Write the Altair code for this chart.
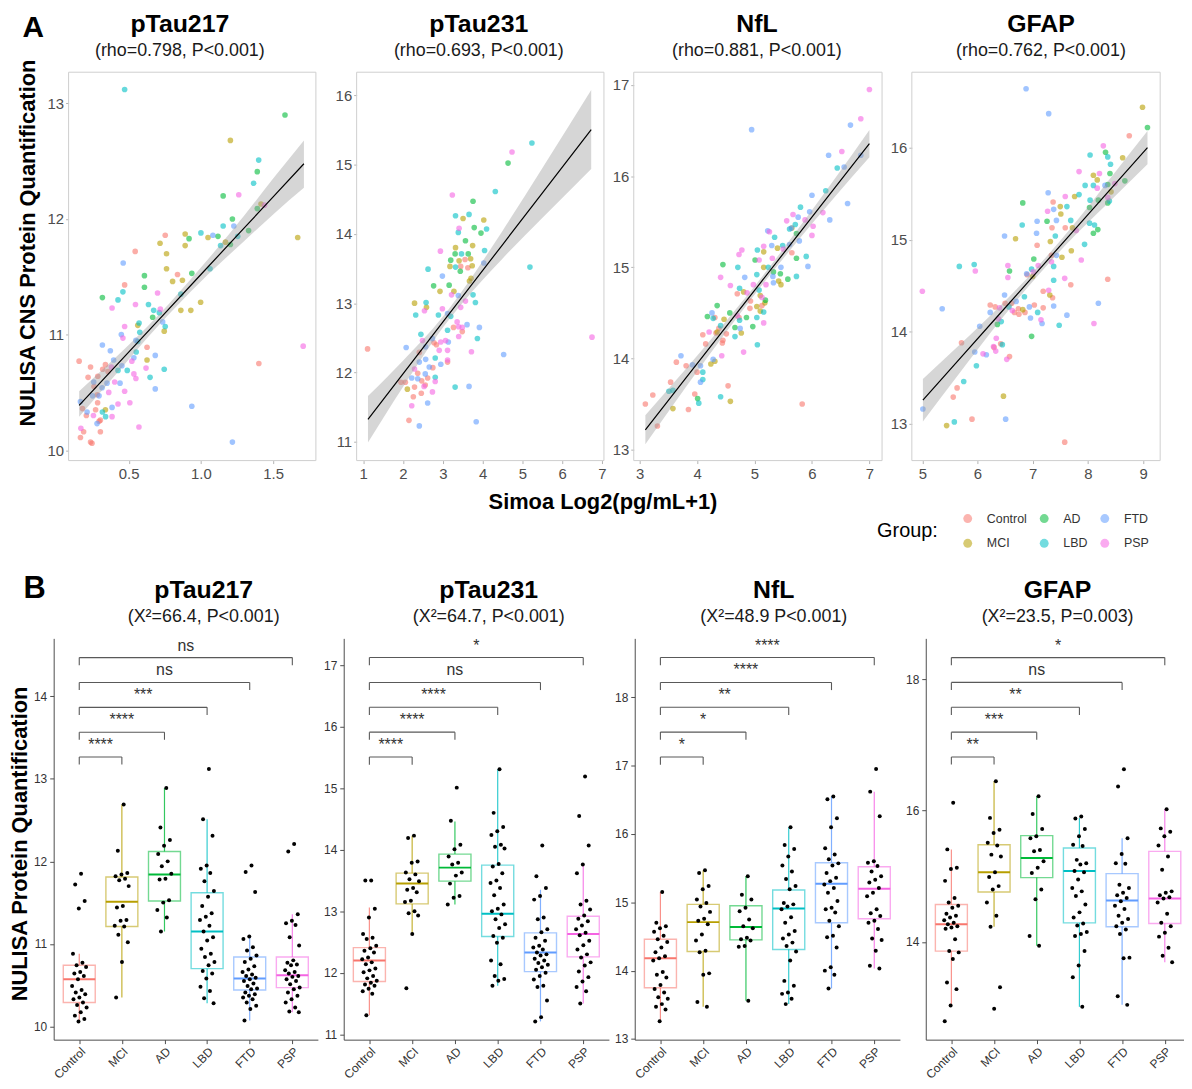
import altair as alt
import pandas as pd

FONT = "Liberation Sans"
GROUPS = ["Control", "MCI", "AD", "LBD", "FTD", "PSP"]
COLORS = ["#F8766D", "#B79F00", "#00BA38", "#00BFC4", "#619CFF", "#F564E3"]

# ---------------- Panel A: (Simoa, NULISA) pairs per group ----------------
A_PTAU217 = {
    "Control": [(0.753, 11.86), (0.545, 11.72), (0.838, 11.52), (0.472, 11.43), (0.627, 10.89), (0.157, 10.77),
                (1.401, 10.75), (0.339, 10.74), (0.236, 10.72), (0.357, 10.68), (0.219, 10.63), (0.286, 10.64),
                (0.283, 10.48), (0.285, 10.41), (0.18, 10.36), (0.271, 10.35), (0.207, 10.30), (0.304, 10.26),
                (0.295, 10.25), (0.188, 10.16), (0.304, 10.16), (0.166, 10.11), (0.236, 10.07), (0.246, 10.06),
                (0.32, 10.70), (0.26, 10.55)],
    "MCI": [(1.204, 12.68), (1.416, 12.13), (0.891, 11.87), (1.049, 11.84), (1.67, 11.84), (0.717, 11.79),
            (0.891, 11.77), (1.17, 11.80), (0.762, 11.70), (0.762, 11.57), (0.804, 11.46), (0.872, 11.47),
            (0.998, 11.28), (0.861, 11.21), (0.93, 11.21), (0.746, 11.03), (0.563, 11.08), (0.627, 10.78),
            (0.339, 10.35)],
    "AD": [(1.582, 12.90), (1.39, 12.41), (1.154, 12.20), (1.39, 12.09), (1.218, 12.0), (0.918, 11.83),
           (1.118, 11.85), (1.33, 11.90), (1.204, 11.78), (0.937, 11.53), (0.609, 11.51), (0.609, 11.41),
           (0.318, 11.32), (0.666, 11.15)],
    "LBD": [(0.472, 13.12), (1.40, 12.51), (1.365, 12.31), (1.154, 11.94), (1.0, 11.88), (1.255, 11.85),
            (1.136, 11.77), (1.063, 11.57), (0.46, 11.37), (0.861, 11.35), (0.426, 11.30), (0.637, 11.26),
            (0.673, 11.21), (0.712, 11.19), (0.753, 11.07), (0.572, 11.10), (0.577, 11.02), (0.563, 10.94),
            (0.552, 10.85), (0.426, 10.69), (0.49, 10.69), (0.746, 10.70), (0.648, 10.63), (0.318, 10.33),
            (0.34, 10.29)],
    "FTD": [(1.228, 11.94), (1.083, 11.86), (0.462, 11.62), (0.735, 11.11), (0.449, 11.0), (0.55, 10.95),
            (0.318, 10.91), (0.373, 10.86), (0.684, 10.82), (0.396, 10.78), (0.536, 10.80), (0.453, 10.73),
            (0.258, 10.59), (0.44, 10.58), (0.35, 10.58), (0.684, 10.53), (0.316, 10.54), (0.295, 10.47),
            (0.25, 10.47), (0.937, 10.38), (0.166, 10.42), (0.385, 10.37), (0.212, 10.33), (0.281, 10.23),
            (1.218, 10.07)],
    "PSP": [(1.262, 12.21), (1.44, 12.12), (0.70, 11.36), (0.547, 11.26), (0.385, 11.23), (0.719, 11.22),
            (0.472, 11.07), (0.46, 10.97), (1.708, 10.90), (0.522, 10.77), (0.38, 10.72), (0.62, 10.71),
            (0.536, 10.66), (0.55, 10.62), (0.403, 10.59), (0.472, 10.51), (0.362, 10.50), (0.426, 10.40),
            (0.508, 10.41), (0.256, 10.30), (0.385, 10.29), (0.169, 10.19), (0.571, 10.20)],
}
A_PTAU231 = {
    "Control": [(3.56, 13.63), (3.45, 13.53), (3.63, 13.51), (3.27, 12.65), (3.49, 12.59), (2.78, 12.43),
                (2.84, 12.40), (1.11, 12.34), (2.41, 12.29), (3.12, 12.15), (2.75, 12.07), (2.37, 11.99),
                (2.62, 11.92), (2.47, 11.88), (1.95, 11.86), (2.06, 11.86), (2.29, 11.79), (2.56, 11.82),
                (2.46, 11.70), (2.26, 11.65), (2.15, 11.31)],
    "MCI": [(3.51, 14.22), (4.03, 14.20), (3.32, 13.80), (3.75, 13.83), (3.41, 13.61), (3.70, 13.64),
            (3.18, 13.53), (3.74, 13.54), (3.67, 13.32), (3.71, 13.36), (2.93, 13.17), (3.28, 13.17),
            (2.29, 13.00), (2.59, 12.94), (2.11, 11.76)],
    "AD": [(4.64, 15.02), (3.76, 14.47), (3.79, 14.09), (3.96, 14.01), (3.57, 13.90), (3.31, 13.71),
           (3.64, 13.71), (3.20, 13.62), (3.44, 13.46), (2.77, 13.25), (3.16, 13.26)],
    "LBD": [(5.24, 15.31), (4.32, 14.61), (3.32, 14.26), (3.66, 14.28), (4.10, 14.07), (3.39, 14.02),
            (4.05, 13.76), (3.47, 13.71), (3.32, 13.52), (2.63, 13.49), (3.76, 13.12), (2.58, 13.01),
            (3.82, 13.01), (2.32, 12.83), (2.89, 12.83), (3.20, 12.81), (3.12, 12.61), (3.87, 12.49),
            (2.45, 12.55), (2.81, 12.21), (2.81, 11.93), (3.31, 11.79), (5.19, 13.52)],
    "FTD": [(4.03, 13.58), (2.99, 13.39), (3.39, 13.11), (3.12, 12.85), (3.61, 12.69), (3.92, 12.65),
            (2.74, 12.49), (3.14, 12.44), (2.08, 12.36), (2.57, 12.37), (4.53, 12.26), (2.57, 12.19),
            (2.41, 12.15), (2.95, 12.12), (2.66, 12.08), (2.56, 11.98), (2.22, 11.92), (2.37, 11.91),
            (3.66, 11.80), (2.62, 11.56), (2.41, 11.23), (3.84, 11.29)],
    "PSP": [(4.74, 15.18), (3.24, 14.56), (3.41, 14.08), (2.94, 13.75), (3.22, 13.12), (3.57, 13.03),
            (2.54, 12.89), (2.99, 12.92), (3.45, 12.94), (3.36, 12.73), (3.40, 12.66), (3.49, 12.65),
            (3.40, 12.52), (2.49, 12.46), (3.07, 12.46), (2.95, 12.44), (2.91, 12.32), (3.72, 12.30),
            (3.12, 12.32), (6.75, 12.51), (3.12, 12.18), (2.29, 12.05), (2.81, 11.87), (2.53, 11.80),
            (2.74, 11.72), (2.22, 11.52)],
}
A_NFL = {
    "Control": [(4.70, 14.71), (4.93, 14.63), (5.13, 14.58), (4.92, 14.55), (4.31, 14.45), (4.73, 14.45),
                (4.38, 14.33), (4.33, 14.28), (4.51, 14.27), (4.10, 14.26), (4.45, 14.20), (4.44, 14.17),
                (4.15, 14.16), (3.64, 13.96), (3.81, 13.92), (4.0, 13.85), (3.54, 13.74), (4.54, 13.70),
                (3.23, 13.60), (3.96, 13.61), (3.10, 13.50), (5.83, 13.50), (3.85, 13.44), (3.31, 13.26),
                (5.65, 15.16)],
    "MCI": [(5.65, 15.43), (5.40, 15.21), (5.16, 15.17), (5.16, 15.0), (5.42, 14.85), (5.46, 14.81),
            (4.81, 14.73), (5.10, 14.69), (5.18, 14.61), (5.04, 14.57), (5.10, 14.52), (4.47, 14.43),
            (4.35, 14.29), (4.77, 14.28), (4.31, 13.97), (4.24, 13.94), (4.58, 13.53), (3.58, 13.45)],
    "AD": [(5.73, 15.37), (5.01, 15.08), (5.73, 15.10), (4.45, 15.03), (5.33, 14.95), (5.45, 14.93),
           (5.58, 14.87), (5.19, 14.64), (4.35, 14.58), (4.57, 14.50), (4.18, 14.46), (4.86, 14.45),
           (4.66, 14.34), (4.97, 14.35), (4.01, 13.56)],
    "LBD": [(6.44, 16.09), (6.24, 15.84), (5.80, 15.66), (5.71, 15.47), (5.61, 15.42), (5.35, 15.33),
            (5.49, 15.24), (5.05, 15.19), (5.90, 15.12), (4.71, 15.0), (5.24, 15.0), (5.04, 14.92),
            (5.73, 14.90), (4.74, 14.77), (5.08, 14.75), (5.16, 14.51), (4.28, 14.44), (4.74, 14.42),
            (5.04, 14.45), (4.41, 14.36), (4.66, 14.24), (5.05, 14.15), (4.10, 13.85), (4.10, 13.77),
            (3.51, 13.64), (3.58, 13.65), (4.41, 13.58), (4.03, 13.51)],
    "FTD": [(6.67, 16.56), (4.95, 16.51), (6.29, 16.23), (6.85, 16.23), (6.56, 16.10), (6.00, 15.79),
            (6.62, 15.70), (5.96, 15.61), (6.31, 15.52), (5.76, 15.55), (5.23, 15.40), (5.64, 15.43),
            (5.78, 15.29), (5.30, 15.24), (5.61, 15.25), (5.93, 15.01), (5.46, 15.0), (5.32, 14.90),
            (4.83, 14.89), (5.33, 14.83), (4.26, 14.50), (4.75, 14.33), (3.72, 14.03), (4.28, 13.99),
            (3.92, 13.93), (4.06, 13.92), (4.06, 13.74)],
    "PSP": [(7.0, 16.95), (6.85, 16.63), (6.52, 16.27), (6.19, 15.60), (5.67, 15.58), (5.56, 15.51),
            (5.88, 15.52), (6.02, 15.45), (5.26, 15.39), (6.00, 15.35), (5.16, 15.23), (5.50, 15.20),
            (4.78, 15.19), (4.73, 15.14), (5.08, 15.08), (5.31, 15.10), (4.41, 14.89), (4.98, 14.81),
            (5.20, 14.81), (4.58, 14.80), (4.87, 14.72), (5.13, 14.67), (4.70, 14.47), (5.16, 14.39),
            (4.21, 14.29), (4.81, 14.07), (4.43, 14.03)],
}
A_GFAP = {
    "Control": [(8.75, 16.13), (7.37, 15.41), (7.35, 15.13), (7.59, 15.13), (7.08, 14.94), (7.34, 14.83),
                (6.90, 14.62), (8.36, 14.57), (7.69, 14.51), (7.19, 14.44), (7.36, 14.37), (6.23, 14.29),
                (6.32, 14.27), (6.50, 14.31), (6.62, 14.31), (6.74, 14.25), (7.03, 14.29), (7.19, 14.26),
                (6.67, 14.21), (6.86, 14.21), (6.75, 14.19), (5.71, 13.88), (6.42, 13.87), (6.30, 13.83),
                (6.58, 13.73), (5.63, 13.39), (5.56, 13.29), (5.90, 13.05), (7.58, 12.80)],
    "MCI": [(8.99, 16.44), (8.63, 15.89), (8.10, 15.70), (8.17, 15.65), (8.42, 15.52), (7.76, 15.47),
            (7.50, 15.36), (7.51, 15.28), (7.72, 15.13), (6.69, 15.01), (7.32, 14.98), (7.70, 14.88),
            (7.53, 14.81), (7.00, 14.60), (7.31, 14.40), (6.82, 14.24), (6.47, 13.30), (5.44, 12.98)],
    "AD": [(9.08, 16.22), (8.32, 15.95), (8.40, 15.72), (8.67, 15.64), (8.36, 15.60), (8.19, 15.43),
           (8.36, 15.40), (6.82, 15.40), (8.03, 15.35), (7.26, 15.20), (8.18, 15.11), (8.10, 15.07),
           (7.02, 14.79), (6.58, 14.66), (6.36, 14.08), (6.98, 13.95)],
    "LBD": [(8.04, 15.92), (8.36, 15.90), (8.41, 15.82), (7.95, 15.59), (8.10, 15.59), (7.84, 15.49),
            (8.04, 15.43), (8.39, 15.42), (7.62, 15.36), (7.69, 15.21), (8.03, 15.18), (8.12, 15.16),
            (6.81, 15.16), (7.41, 15.04), (7.94, 14.95), (5.67, 14.71), (5.94, 14.73), (7.38, 14.71),
            (6.98, 14.68), (7.38, 14.56), (6.85, 14.38), (6.57, 14.27), (7.09, 14.21), (6.43, 14.11),
            (7.48, 14.07), (6.45, 13.86), (5.98, 13.63), (5.75, 13.46), (5.58, 13.02)],
    "FTD": [(6.88, 16.64), (7.29, 16.37), (8.31, 15.59), (7.28, 15.51), (7.38, 15.33), (7.08, 15.20),
            (7.43, 15.21), (7.07, 15.07), (6.49, 15.04), (7.43, 14.83), (6.89, 14.63), (6.49, 14.40),
            (6.70, 14.33), (8.19, 14.31), (7.38, 14.28), (5.36, 14.25), (6.23, 14.21), (6.94, 14.27),
            (7.62, 14.18), (6.96, 14.15), (7.17, 14.09), (6.04, 14.06), (5.95, 13.78), (6.16, 13.75),
            (5.01, 13.16), (6.51, 13.05)],
    "PSP": [(8.28, 16.02), (7.84, 15.74), (8.21, 15.72), (8.17, 15.56), (8.49, 15.61), (7.59, 15.47),
            (8.36, 15.46), (7.27, 15.31), (7.79, 15.10), (7.88, 14.78), (7.34, 14.76), (6.55, 14.72),
            (5.96, 14.66), (7.10, 14.72), (7.01, 14.65), (6.55, 14.59), (7.58, 14.58), (5.0, 14.44),
            (7.29, 14.45), (6.40, 14.26), (6.63, 14.23), (7.15, 14.13), (6.38, 14.14), (8.11, 14.09),
            (6.34, 13.93), (6.29, 13.84), (6.33, 13.79), (6.10, 13.76), (6.53, 13.70)],
}

# regression fit and confidence band
FIT_PTAU217_X = [0.157, 0.4, 0.7, 1.0, 1.3, 1.5, 1.713]
FIT_PTAU217_Y = [10.387, 10.714, 11.117, 11.52, 11.923, 12.192, 12.478]
FIT_PTAU217_LO = [10.29, 10.64, 11.07, 11.46, 11.81, 12.04, 12.27]
FIT_PTAU217_HI = [10.51, 10.79, 11.16, 11.58, 12.03, 12.35, 12.68]
FIT_PTAU231_X = [1.12, 2.0, 3.0, 3.5, 4.5, 5.5, 6.73]
FIT_PTAU231_Y = [11.325, 11.98, 12.725, 13.097, 13.842, 14.587, 15.503]
FIT_PTAU231_LO = [10.99, 11.79, 12.645, 13.007, 13.642, 14.227, 14.933]
FIT_PTAU231_HI = [11.66, 12.17, 12.805, 13.187, 14.042, 14.947, 16.073]
FIT_NFL_X = [3.1, 3.8, 4.5, 5.1, 5.7, 6.4, 7.0]
FIT_NFL_Y = [13.218, 13.781, 14.345, 14.827, 15.310, 15.873, 16.356]
FIT_NFL_LO = [13.058, 13.681, 14.285, 14.782, 15.25, 15.773, 16.206]
FIT_NFL_HI = [13.378, 13.881, 14.405, 14.872, 15.37, 15.973, 16.506]
FIT_GFAP_X = [5.01, 5.7, 6.4, 7.1, 7.8, 8.5, 9.08]
FIT_GFAP_Y = [13.256, 13.721, 14.193, 14.665, 15.137, 15.609, 16.0]
FIT_GFAP_LO = [13.026, 13.571, 14.113, 14.615, 15.067, 15.479, 15.82]
FIT_GFAP_HI = [13.486, 13.871, 14.273, 14.715, 15.207, 15.739, 16.18]

# ---------------- Panel B: NULISA values per group ----------------
B_PTAU217 = {
    "Control": [11.85, 11.72, 11.52, 11.43, 10.88, 10.77, 10.74, 10.72, 10.66, 10.64, 10.61, 10.57, 10.49, 10.44,
                10.41, 10.39, 10.35, 10.33, 10.29, 10.26, 10.23, 10.17, 10.13, 10.09, 10.06],
    "MCI": [12.69, 12.13, 11.86, 11.84, 11.82, 11.79, 11.77, 11.70, 11.46, 11.44, 11.29, 11.28, 11.22, 11.21,
            11.11, 11.02, 10.78, 10.35],
    "AD": [12.89, 12.41, 12.26, 12.19, 12.09, 12.0, 11.94, 11.85, 11.79, 11.78, 11.53, 11.50, 11.41, 11.32, 11.15],
    "LBD": [13.12, 12.51, 12.31, 11.95, 11.91, 11.86, 11.76, 11.64, 11.57, 11.46, 11.37, 11.33, 11.29, 11.22,
            11.15, 11.08, 11.04, 10.94, 10.88, 10.84, 10.78, 10.74, 10.67, 10.64, 10.58, 10.48, 10.43, 10.34, 10.28],
    "FTD": [11.95, 11.87, 11.63, 11.09, 11.06, 10.96, 10.92, 10.86, 10.82, 10.78, 10.73, 10.69, 10.66, 10.63,
            10.61, 10.59, 10.57, 10.55, 10.52, 10.49, 10.46, 10.45, 10.41, 10.39, 10.37, 10.35, 10.33, 10.29,
            10.25, 10.21, 10.07],
    "PSP": [12.21, 12.12, 11.36, 11.28, 11.25, 11.23, 11.08, 10.98, 10.80, 10.77, 10.75, 10.74, 10.68, 10.66,
            10.64, 10.61, 10.60, 10.57, 10.55, 10.51, 10.47, 10.45, 10.41, 10.37, 10.33, 10.29, 10.23, 10.18, 10.17],
}
B_PTAU231 = {
    "Control": [13.50, 13.50, 13.04, 12.90, 12.63, 12.57, 12.55, 12.44, 12.40, 12.36, 12.33, 12.25, 12.22, 12.17,
                12.14, 12.07, 12.04, 12.01, 11.95, 11.91, 11.87, 11.84, 11.81, 11.79, 11.74, 11.70, 11.66, 11.31],
    "MCI": [14.23, 14.19, 13.81, 13.79, 13.63, 13.60, 13.52, 13.49, 13.38, 13.35, 13.31, 13.17, 13.15, 13.00,
            12.97, 12.93, 12.63, 11.75],
    "AD": [15.01, 14.47, 14.08, 14.01, 13.89, 13.79, 13.76, 13.63, 13.58, 13.45, 13.25, 13.22, 13.11],
    "LBD": [15.31, 14.60, 14.37, 14.30, 14.24, 14.08, 14.05, 14.02, 13.77, 13.73, 13.62, 13.50, 13.46, 13.38,
            13.26, 13.11, 13.04, 13.00, 12.95, 12.87, 12.79, 12.73, 12.60, 12.57, 12.49, 12.20, 12.14, 11.95,
            11.90, 11.87, 11.79],
    "FTD": [14.07, 13.57, 13.38, 13.25, 13.19, 12.90, 12.87, 12.71, 12.66, 12.57, 12.52, 12.44, 12.41, 12.38,
            12.33, 12.30, 12.28, 12.23, 12.20, 12.16, 12.13, 12.09, 12.05, 12.00, 11.95, 11.89, 11.79, 11.77,
            11.55, 11.28, 11.21],
    "PSP": [15.19, 14.55, 14.07, 13.76, 13.62, 13.17, 13.11, 13.03, 12.93, 12.88, 12.84, 12.77, 12.71, 12.65,
            12.61, 12.52, 12.45, 12.38, 12.30, 12.25, 12.17, 12.12, 12.02, 11.93, 11.86, 11.77, 11.70, 11.50],
}
B_NFL = {
    "Control": [15.15, 14.70, 14.65, 14.62, 14.57, 14.51, 14.46, 14.42, 14.34, 14.27, 14.21, 14.18, 14.15, 13.98,
                13.94, 13.90, 13.79, 13.73, 13.68, 13.61, 13.59, 13.51, 13.47, 13.43, 13.26],
    "MCI": [15.47, 15.43, 15.24, 15.19, 15.04, 14.99, 14.94, 14.86, 14.76, 14.73, 14.68, 14.53, 14.44, 14.29,
            14.27, 13.96, 13.94, 13.54, 13.47],
    "AD": [15.38, 15.11, 15.04, 14.92, 14.87, 14.75, 14.65, 14.62, 14.48, 14.46, 14.44, 14.36, 14.35, 13.56],
    "LBD": [16.10, 15.84, 15.78, 15.67, 15.54, 15.45, 15.34, 15.24, 15.19, 14.99, 14.97, 14.94, 14.90, 14.78,
            14.70, 14.58, 14.53, 14.47, 14.41, 14.36, 14.28, 14.15, 13.85, 13.78, 13.68, 13.66, 13.59, 13.51],
    "FTD": [16.55, 16.51, 16.23, 16.10, 15.79, 15.70, 15.63, 15.57, 15.54, 15.43, 15.36, 15.31, 15.26, 15.21,
            15.14, 15.02, 14.92, 14.90, 14.85, 14.73, 14.65, 14.51, 14.49, 14.34, 14.05, 14.00, 13.94, 13.74],
    "PSP": [16.95, 16.62, 16.26, 15.60, 15.58, 15.53, 15.45, 15.38, 15.33, 15.29, 15.21, 15.14, 15.09, 14.90,
            14.84, 14.80, 14.73, 14.70, 14.61, 14.47, 14.45, 14.29, 14.07, 14.03],
}
B_GFAP = {
    "Control": [16.12, 15.41, 15.13, 15.11, 14.93, 14.67, 14.60, 14.55, 14.52, 14.43, 14.40, 14.37, 14.33, 14.29,
                14.27, 14.24, 14.22, 14.20, 14.04, 13.86, 13.84, 13.74, 13.38, 13.28, 13.03, 12.79],
    "MCI": [16.45, 15.89, 15.71, 15.66, 15.51, 15.47, 15.33, 15.30, 15.06, 14.99, 14.85, 14.80, 14.60, 14.40,
            14.23, 13.31, 12.98],
    "AD": [16.22, 15.95, 15.72, 15.61, 15.58, 15.40, 15.38, 15.23, 15.13, 15.05, 14.80, 14.65, 14.09, 13.94],
    "LBD": [15.91, 15.88, 15.72, 15.61, 15.48, 15.46, 15.25, 15.20, 15.18, 15.08, 15.06, 14.95, 14.82, 14.77,
            14.70, 14.57, 14.45, 14.37, 14.28, 14.25, 14.15, 14.12, 14.09, 13.86, 13.64, 13.46, 13.01],
    "FTD": [16.63, 16.37, 15.58, 15.34, 15.20, 15.19, 14.87, 14.82, 14.75, 14.71, 14.67, 14.62, 14.55, 14.50,
            14.40, 14.35, 14.29, 14.24, 14.19, 14.12, 13.76, 13.75, 13.17, 13.04],
    "PSP": [16.02, 15.73, 15.68, 15.61, 15.47, 15.30, 15.10, 14.77, 14.75, 14.71, 14.68, 14.66, 14.60, 14.43,
            14.29, 14.24, 14.14, 14.08, 13.91, 13.79, 13.69],
}

# box statistics per group (Control..PSP): lower whisker, Q1, median, Q3, upper whisker
BOX_PTAU217 = dict(lo=[10.04, 10.35, 11.15, 10.28, 10.07, 10.17], q1=[10.29, 11.21, 11.52, 10.70, 10.44, 10.47],
                   med=[10.57, 11.51, 11.84, 11.15, 10.58, 10.62], q3=[10.74, 11.81, 12.12, 11.62, 10.84, 10.84],
                   hi=[10.88, 12.69, 12.89, 12.51, 11.10, 11.36])
BOX_PTAU231 = dict(lo=[11.31, 12.63, 13.11, 11.79, 11.21, 11.50], q1=[11.86, 13.12, 13.49, 12.59, 12.02, 12.26],
                   med=[12.20, 13.45, 13.71, 12.96, 12.33, 12.63], q3=[12.41, 13.62, 13.93, 13.75, 12.65, 12.92],
                   hi=[13.06, 14.23, 14.46, 15.31, 13.35, 13.76])
BOX_NFL = dict(lo=[13.26, 13.47, 13.56, 13.51, 13.74, 14.03], q1=[13.75, 14.28, 14.45, 14.31, 14.70, 14.76],
               med=[14.18, 14.71, 14.64, 14.91, 15.27, 15.20], q3=[14.46, 14.97, 14.95, 15.18, 15.58, 15.52],
               hi=[15.15, 15.47, 15.38, 16.10, 16.55, 16.62])
BOX_GFAP = dict(lo=[13.04, 14.23, 13.94, 13.01, 13.04, 13.69], q1=[13.86, 14.76, 14.98, 14.29, 14.23, 14.28],
                med=[14.27, 15.06, 15.28, 15.08, 14.63, 14.66], q3=[14.57, 15.48, 15.62, 15.43, 15.04, 15.38],
                hi=[15.41, 16.45, 16.22, 15.89, 15.58, 16.02])

# pairwise comparisons vs Control (MCI, AD, LBD, FTD, PSP)
SIG_PTAU217 = ["****", "****", "***", "ns", "ns"]
SIG_PTAU231 = ["****", "****", "****", "ns", "*"]
SIG_NFL = ["*", "*", "**", "****", "****"]
SIG_GFAP = ["**", "***", "**", "ns", "*"]
LEVELS_PTAU217 = [13.265, 13.566, 13.867, 14.169, 14.47]
LEVELS_PTAU231 = [15.508, 15.912, 16.316, 16.72, 17.124]
LEVELS_NFL = [17.127, 17.491, 17.855, 18.218, 18.582]
LEVELS_GFAP = [16.818, 17.197, 17.576, 17.955, 18.333]

COLOR_SCALE = alt.Scale(domain=GROUPS, range=COLORS)
ONE = pd.DataFrame({"k": [0]})


def value_text(text, x, y, size, bold=True, angle=0, align="center"):
    kw = dict(fontSize=size, font=FONT, fontWeight="bold" if bold else "normal", align=align,
              baseline="alphabetic", color="black")
    if angle:
        kw["angle"] = angle
    return alt.Chart(pd.DataFrame({"t": [text]})).mark_text(**kw).encode(
        x=alt.value(x), y=alt.value(y), text="t:N")


def spacer(w, ax, ay1, ay2, extra=()):
    # an untitled, invisible leading cell that carries the row's outer labels
    rule = alt.Chart(ONE).mark_rule(opacity=0).encode(
        x=alt.value(ax), y=alt.value(ay1), y2=alt.value(ay2))
    return alt.layer(rule, *extra).properties(width=w, height=1)


def make_title(title, subtitle, dx):
    return alt.TitleParams(text=title, subtitle=subtitle, fontSize=25, fontWeight="bold", font=FONT,
                           subtitleFontSize=18, subtitleFont=FONT, subtitleColor="#1A1A1A",
                           anchor="middle", frame="group", dx=dx, offset=12, subtitlePadding=5)


def scatter_panel(pts_by_group, fx, fy, flo, fhi, xdom, ydom, xticks, yticks, xfmt, w, h, plot_w,
                  title, subtitle, dx, legend=None, extra=()):
    rows = [{"group": g, "x": x, "y": y} for g in GROUPS for (x, y) in pts_by_group[g]]
    pts = pd.DataFrame(rows)
    band = pd.DataFrame({"x": fx, "fit": fy, "lo": flo, "hi": fhi})
    sx = dict(domain=xdom, nice=False, zero=False)
    if plot_w != w:
        sx["range"] = [0, plot_w]
    xscale = alt.Scale(**sx)
    yscale = alt.Scale(domain=ydom, nice=False, zero=False)
    common = dict(title=None, domain=False, grid=False, tickColor="#B3B3B3", tickSize=3,
                  labelColor="#4D4D4D", labelFontSize=15, labelFont=FONT)
    xaxis = alt.Axis(values=xticks, format=xfmt, labelPadding=3, **common)
    yaxis = alt.Axis(values=yticks, format="d", labelPadding=2, **common)
    X = lambda f: alt.X(f, scale=xscale, axis=xaxis)
    Y = lambda f: alt.Y(f, scale=yscale, axis=yaxis)
    border = alt.Chart(ONE).mark_rect(fillOpacity=0, stroke="#CFCFCF", strokeWidth=1).encode(
        x=alt.value(0), x2=alt.value(plot_w), y=alt.value(0), y2=alt.value(h))
    points = alt.Chart(pts).mark_circle(size=32, opacity=0.6).encode(
        x=X("x:Q"), y=Y("y:Q"),
        color=alt.Color("group:N", scale=COLOR_SCALE, legend=legend))
    area = alt.Chart(band).mark_area(color="#999999", opacity=0.4, interpolate="monotone").encode(
        x=X("x:Q"), y=Y("lo:Q"), y2="hi:Q")
    line = alt.Chart(band).mark_line(color="black", strokeWidth=1.2).encode(x=X("x:Q"), y=Y("fit:Q"))
    layers = [border, points, area, line] + list(extra)
    return alt.layer(*layers).properties(width=w, height=h, title=make_title(title, subtitle, dx))


def box_panel(pts_by_group, box, sig, levels, drop, ydom, yticks, w, h, xmax, title, subtitle, dx):
    rows = [{"group": g, "idx": i + 1, "value": v} for i, g in enumerate(GROUPS) for v in pts_by_group[g]]
    pts = pd.DataFrame(rows)
    st = pd.DataFrame({"group": GROUPS, "idx": list(range(1, 7)), **box})
    br = pd.DataFrame({"xa": [1] * 5, "xb": list(range(2, 7)), "y": levels, "label": sig})
    xscale = alt.Scale(domain=[0.4, xmax], nice=False, zero=False)
    yscale = alt.Scale(domain=ydom, nice=False, zero=False)
    common = dict(title=None, grid=False, domain=True, domainColor="#4D4D4D", domainWidth=1,
                  tickColor="#4D4D4D", tickSize=4, labelColor="#333333", labelFontSize=12, labelFont=FONT)
    lab = "[" + ",".join("'%s'" % g for g in GROUPS) + "][datum.value - 1]"
    xaxis = alt.Axis(values=list(range(1, 7)), labelExpr=lab, labelAngle=-45, labelAlign="right",
                     labelBaseline="top", labelPadding=2, **common)
    yaxis = alt.Axis(values=yticks, format="d", labelPadding=3, **common)
    X = lambda f: alt.X(f, scale=xscale, axis=xaxis)
    Y = lambda f: alt.Y(f, scale=yscale, axis=yaxis)
    C = alt.Color("group:N", scale=COLOR_SCALE, legend=None)
    base = alt.Chart(st).transform_calculate(xl="datum.idx - 0.375", xr="datum.idx + 0.375")
    wlo = base.mark_rule(strokeWidth=1.2, opacity=0.8).encode(x=X("idx:Q"), y=Y("lo:Q"), y2="q1:Q", color=C)
    whi = base.mark_rule(strokeWidth=1.2, opacity=0.8).encode(x=X("idx:Q"), y=Y("q3:Q"), y2="hi:Q", color=C)
    rect = base.mark_rect(fill="white", fillOpacity=0, strokeWidth=1.4, strokeOpacity=0.55).encode(
        x=X("xl:Q"), x2="xr:Q", y=Y("q1:Q"), y2="q3:Q",
        stroke=alt.Stroke("group:N", scale=COLOR_SCALE, legend=None))
    medl = base.mark_rule(strokeWidth=2).encode(x=X("xl:Q"), x2="xr:Q", y=Y("med:Q"), color=C)
    dots = alt.Chart(pts).transform_window(rn="row_number()", groupby=["group"]).transform_calculate(
        jx="datum.idx + (((datum.rn * 0.618034) % 1) - 0.5) * 0.36").mark_circle(
        size=16, color="black", opacity=1).encode(x=X("jx:Q"), y=Y("value:Q"))
    bb = alt.Chart(br).transform_calculate(y0="datum.y - %f" % drop, xm="(datum.xa + datum.xb) / 2")
    bh = bb.mark_rule(color="#595959", strokeWidth=1.1).encode(x=X("xa:Q"), x2="xb:Q", y=Y("y:Q"))
    bl = bb.mark_rule(color="#595959", strokeWidth=1.1).encode(x=X("xa:Q"), y=Y("y0:Q"), y2="y:Q")
    brr = bb.mark_rule(color="#595959", strokeWidth=1.1).encode(x=X("xb:Q"), y=Y("y0:Q"), y2="y:Q")
    bt = bb.mark_text(fontSize=16, font=FONT, color="#333333", baseline="alphabetic", dy=-7).encode(
        x=X("xm:Q"), y=Y("y:Q"), text="label:N")
    layers = [wlo, whi, rect, medl, dots, bh, bl, brr, bt]
    return alt.layer(*layers).properties(width=w, height=h, title=make_title(title, subtitle, dx))


HA = 391
legend = alt.Legend(orient="none", legendX=-35, legendY=443, title="Group:", titleOrient="left",
                    titleFontSize=20, titleFontWeight="normal", titleColor="black", titleFont=FONT,
                    titlePadding=23, titleAnchor="middle", titleBaseline="middle", columns=3,
                    values=GROUPS, labelFontSize=12.5, labelColor="#333333", labelFont=FONT,
                    labelOffset=13, symbolType="circle", symbolSize=80, symbolOpacity=0.55,
                    symbolStrokeWidth=0, columnPadding=11, rowPadding=12)

a1 = scatter_panel(A_PTAU217, FIT_PTAU217_X, FIT_PTAU217_Y, FIT_PTAU217_LO, FIT_PTAU217_HI,
                   [0.084, 1.796], [9.91, 13.27], [0.5, 1.0, 1.5], [10, 11, 12, 13], ".1f", 260, HA, 249,
                   "pTau217", "(rho=0.798, P<0.001)", -18)
a2 = scatter_panel(A_PTAU231, FIT_PTAU231_X, FIT_PTAU231_Y, FIT_PTAU231_LO, FIT_PTAU231_HI,
                   [0.835, 7.05], [10.73, 16.33], [1, 2, 3, 4, 5, 6, 7], [11, 12, 13, 14, 15, 16], "d", 249, HA, 249,
                   "pTau231", "(rho=0.693, P<0.001)", -1.5,
                   extra=[value_text("Simoa Log2(pg/mL+1)", 248, 440, 22)])
a3 = scatter_panel(A_NFL, FIT_NFL_X, FIT_NFL_Y, FIT_NFL_LO, FIT_NFL_HI,
                   [2.898, 7.22], [12.88, 17.14], [3, 4, 5, 6, 7], [13, 14, 15, 16, 17], "d", 250, HA, 250,
                   "NfL", "(rho=0.881, P<0.001)", -1)
a4 = scatter_panel(A_GFAP, FIT_GFAP_X, FIT_GFAP_Y, FIT_GFAP_LO, FIT_GFAP_HI,
                   [4.81, 9.31], [12.6, 16.82], [5, 6, 7, 8, 9], [13, 14, 15, 16], "d", 250, HA, 250,
                   "GFAP", "(rho=0.762, P<0.001)", 5, legend=legend)

HB = 404
b1 = box_panel(B_PTAU217, BOX_PTAU217, SIG_PTAU217, LEVELS_PTAU217, 0.092, [9.839, 14.703], [10, 11, 12, 13, 14],
               266, HB, 6.6, "pTau217", "(X\u00b2=66.4, P<0.001)", 18)
b2 = box_panel(B_PTAU231, BOX_PTAU231, SIG_PTAU231, LEVELS_PTAU231, 0.124, [10.914, 17.436],
               [11, 12, 13, 14, 15, 16, 17], 267, HB, 6.6, "pTau231", "(X\u00b2=64.7, P<0.001)", 12.5)
b3 = box_panel(B_NFL, BOX_NFL, SIG_NFL, LEVELS_NFL, 0.112, [12.99, 18.863], [13, 14, 15, 16, 17, 18],
               267, HB, 6.6, "NfL", "(X\u00b2=48.9 P<0.001)", 6.5)
b4 = box_panel(B_GFAP, BOX_GFAP, SIG_GFAP, LEVELS_GFAP, 0.116, [12.51, 18.626], [14, 16, 18],
               260, HB, 6.45, "GFAP", "(X\u00b2=23.5, P=0.003)", 2.75)

# leading invisible cells: row A origin sits 42px left of the pTau217 plot, row B 27px left of its plot
sp_a = spacer(12, -17, -64, 490, extra=[
    value_text("A", 6.5, -35, 30),
    value_text("NULISA CNS Protein Quantification", 8, 172, 22, angle=270)])
sp_b = spacer(1, -17, -74, 0, extra=[
    value_text("B", 7.7, -41, 31),
    value_text("NULISA Protein Quantification", 0, 207, 22, angle=270)])

row_a = alt.hconcat(sp_a, a1, a2, a3, a4, spacing=30, bounds="flush").resolve_legend(color="independent")
row_b = alt.hconcat(sp_b, b1, b2, b3, b4, spacing=26, bounds="flush").resolve_legend(
    color="independent", stroke="independent")

chart = alt.vconcat(row_a, row_b, spacing=6).resolve_legend(
    color="independent", stroke="independent").properties(
    padding={"top": -3, "left": 0, "right": 0, "bottom": 0}, background="white"
).configure(font=FONT).configure_view(stroke=None, strokeWidth=0)

chart.save("out.html", embed_options={"renderer": "svg", "actions": False})
